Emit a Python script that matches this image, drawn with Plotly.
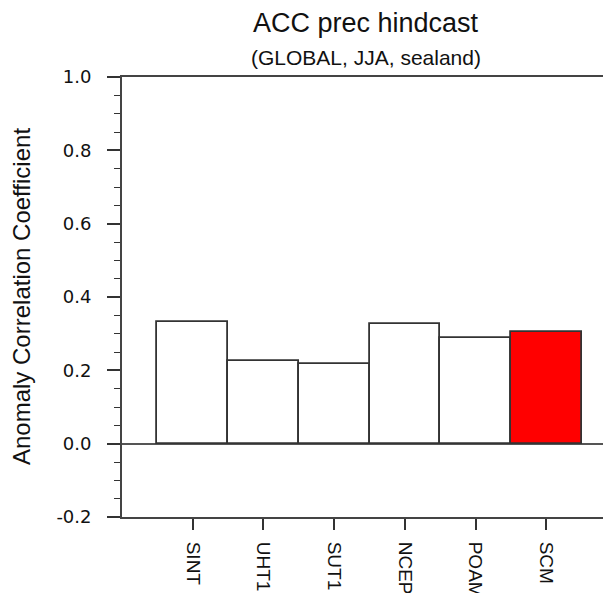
import plotly.graph_objects as go

models = ["SINT", "UHT1", "SUT1", "NCEP", "POAM", "SCM"]
acc = [0.331, 0.226, 0.217, 0.326, 0.287, 0.304]
colors = ["white", "white", "white", "white", "white", "red"]
ytick_vals = [-0.2, 0.0, 0.2, 0.4, 0.6, 0.8, 1.0]
ytick_text = ["-0.2", "0.0", "0.2", "0.4", "0.6", "0.8", "1.0"]

ARIAL = "Liberation Sans, Arial, Helvetica, sans-serif"
WIDE = "DejaVu Sans, Verdana, sans-serif"

fig = go.Figure()
fig.add_trace(go.Bar(
    x=list(range(len(models))), y=acc, width=1.0,
    marker=dict(color=colors, line=dict(color="#333333", width=1.8)),
    showlegend=False,
))

# page body has an 8px default margin; size the figure so it fits the window
fig.update_layout(
    width=603, height=585,
    margin=dict(l=114, r=1, t=69, b=76),
    paper_bgcolor="white", plot_bgcolor="white",
    font=dict(family=ARIAL, color="black"),
    bargap=0,
    annotations=[
        dict(text="ACC prec hindcast", x=0.5, y=1, xref="paper", yref="paper",
             xanchor="center", yanchor="middle", yshift=54, showarrow=False,
             font=dict(size=27, family=ARIAL, color="#111111")),
        dict(text="(GLOBAL, JJA, sealand)", x=0.5, y=1, xref="paper", yref="paper",
             xanchor="center", yanchor="middle", yshift=20, showarrow=False,
             font=dict(size=21, family=ARIAL, color="#111111")),
        dict(text="Anomaly Correlation Coefficient", x=0, y=0.5, xref="paper", yref="paper",
             xanchor="center", yanchor="middle", xshift=-101, textangle=-90, showarrow=False,
             font=dict(size=24, family=ARIAL, color="#111111")),
    ],
)

fig.update_xaxes(
    range=[-1, 5.9], tickvals=list(range(len(models))), ticktext=models,
    tickangle=90, ticks="outside", ticklen=11, tickwidth=1.5, tickcolor="#333333",
    showline=True, linecolor="#444444", linewidth=1.8, mirror=True,
    showgrid=False, zeroline=False, automargin=False,
    tickfont=dict(size=19, family=ARIAL, color="#111111"),
    ticklabelstandoff=8,
)
fig.update_yaxes(
    range=[-0.2, 1.0], tickvals=ytick_vals, ticktext=ytick_text,
    ticks="outside", ticklen=13, tickwidth=1.5, tickcolor="#333333",
    minor=dict(dtick=0.05, tick0=0, ticks="outside", ticklen=6, tickwidth=1.2,
               tickcolor="#333333", showgrid=False),
    showline=True, linecolor="#444444", linewidth=1.8, mirror=True,
    showgrid=False, zeroline=True, zerolinecolor="#555555", zerolinewidth=1.5,
    automargin=False,
    tickfont=dict(size=18, family=WIDE, color="#111111"),
    ticklabelstandoff=12,
)

fig.write_html("out.html")
